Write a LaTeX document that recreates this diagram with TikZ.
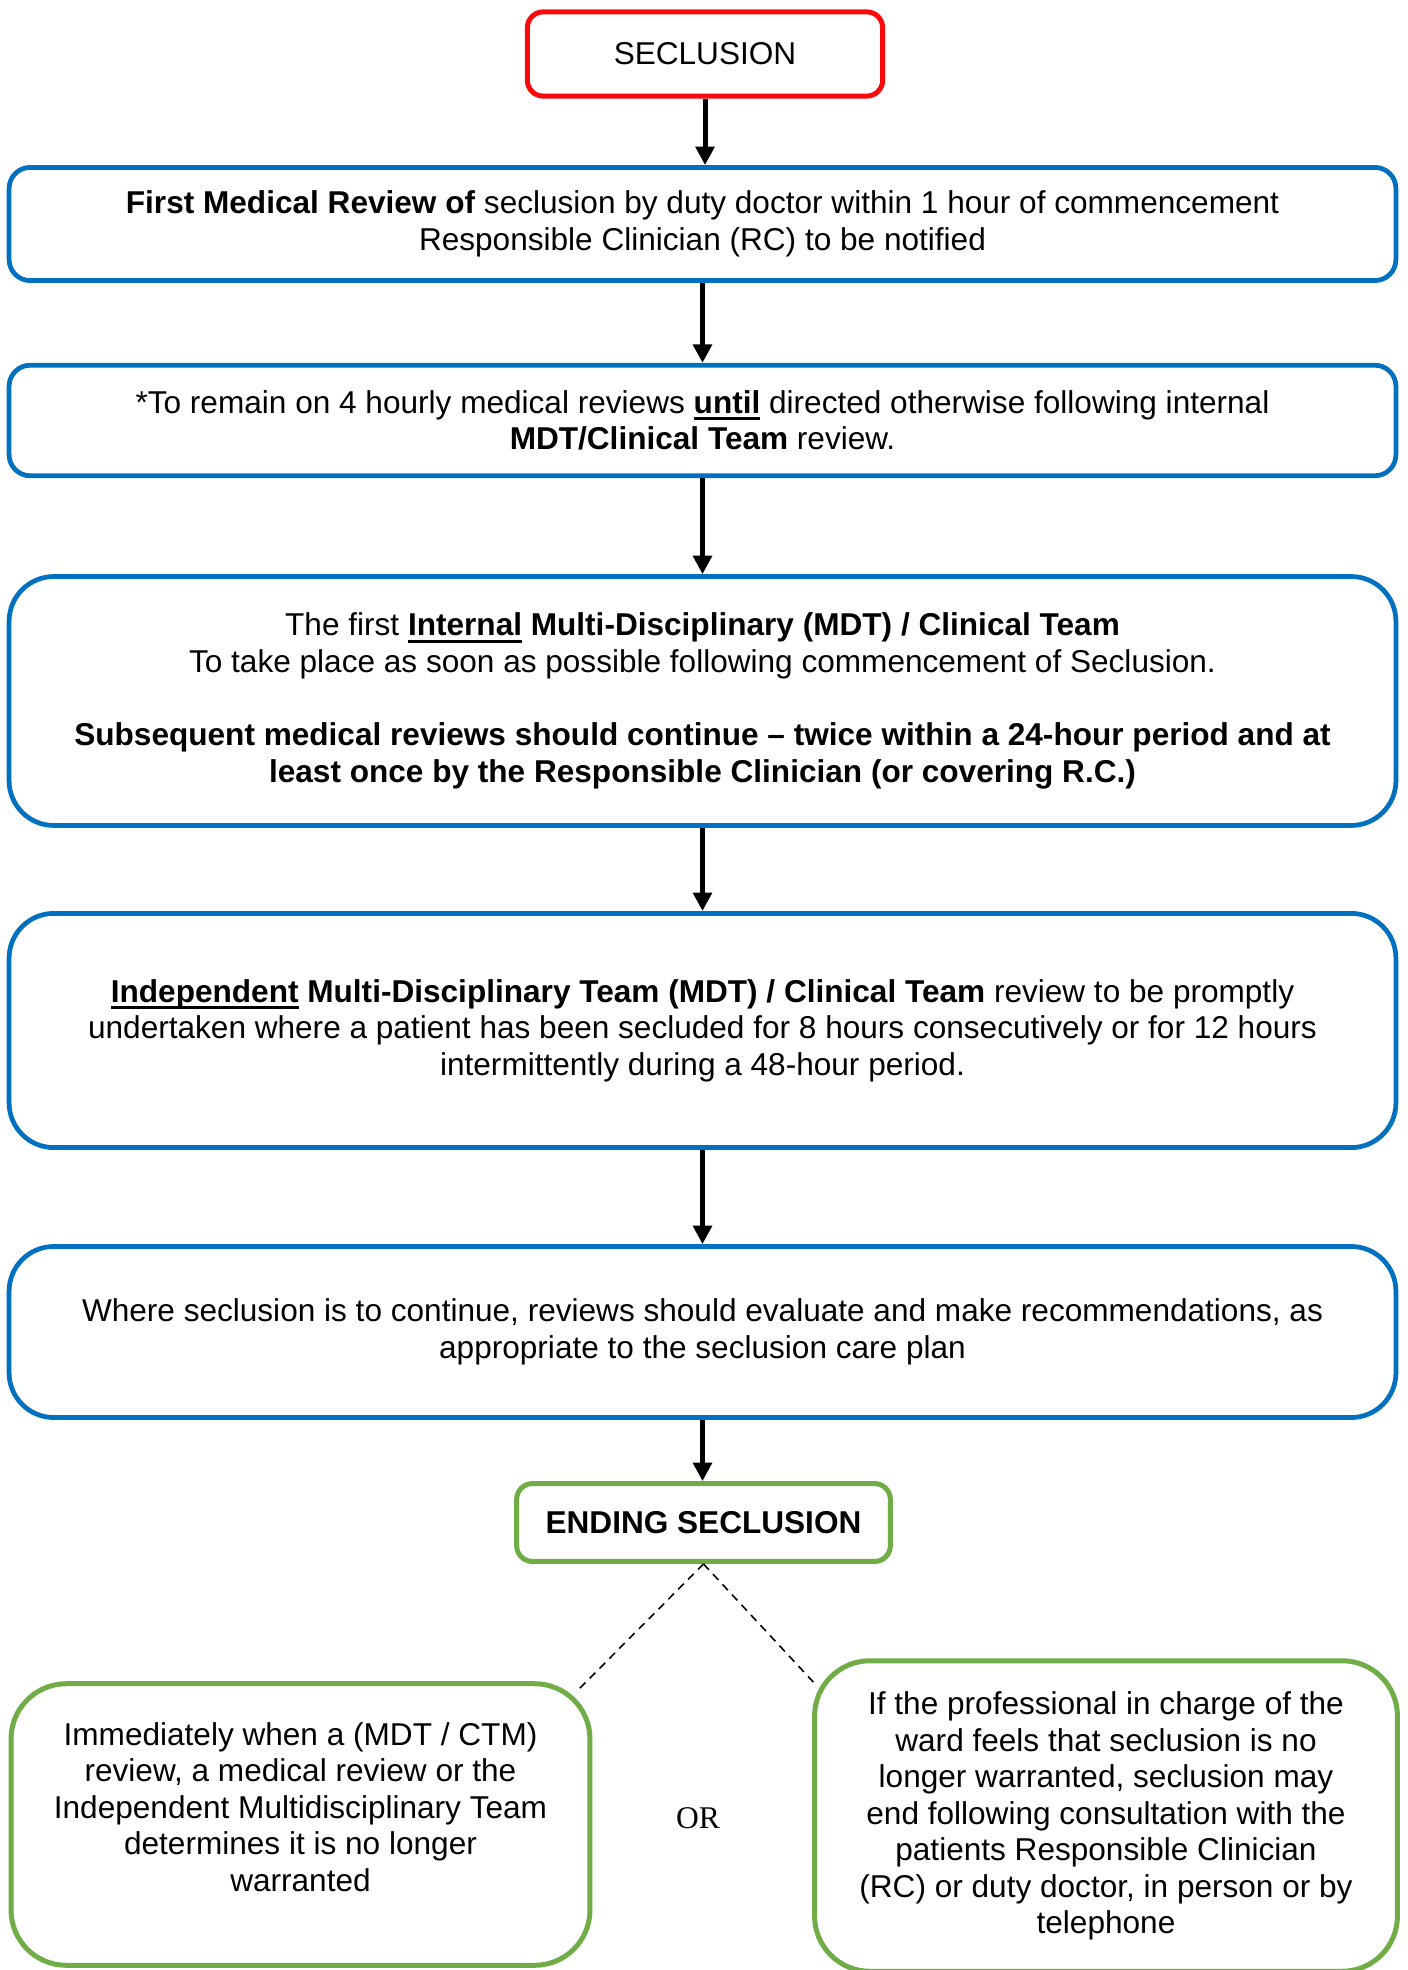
\documentclass[tikz,border=0pt]{standalone}
\usepackage{fontspec}
\setmainfont{Liberation Sans}
\newfontfamily\orfont{Liberation Serif}
\usepackage{xcolor}
\usepackage{tikz}
\usetikzlibrary{arrows.meta, positioning}
\definecolor{secred}{RGB}{250,10,10}
\definecolor{revblue}{RGB}{0,112,192}
\definecolor{endgreen}{RGB}{112,173,71}
% heavier underline, as in the printed flowchart
\newcommand{\heavyul}[1]{\setbox0\hbox{#1}\rlap{\rule[-2.6pt]{\wd0}{1.2pt}}\box0\relax}

\begin{document}
\begin{tikzpicture}[x=0.38pt, y=-0.38pt,
  every node/.style={font=\fontsize{12}{13.9}\selectfont},
  start/.style={rectangle, draw=secred, line width=1.9pt, fill=white,
                rounded corners=6pt, minimum width=135pt, minimum height=32pt,
                align=center},
  review/.style={rectangle, draw=revblue, line width=1.8pt, fill=white,
                 rounded corners=8pt, minimum width=527pt, align=center},
  bigreview/.style={review, rounded corners=17pt},
  ending/.style={rectangle, draw=endgreen, line width=1.9pt, fill=white,
                 rounded corners=6pt, align=center},
  option/.style={ending, rounded corners=21pt, minimum width=220pt},
  arr/.style={-{Triangle[length=7pt, width=7pt]}, line width=1.9pt, black},
  split/.style={dashed, dash pattern=on 3pt off 2.3pt, line width=0.6pt, black},
]
\useasboundingbox (0,0) rectangle (1407,1970);

\node[start] (sec) at (705,54) {SECLUSION};
\node[review, minimum height=43pt] (first) at (702.5,224)
  {\textbf{First Medical Review of} seclusion by duty doctor within 1 hour of commencement\\
   Responsible Clinician (RC) to be notified};
\node[review, minimum height=42pt] (hourly) at (702.5,420.5)
  {*To remain on 4 hourly medical reviews \textbf{\heavyul{until}} directed otherwise following internal\\
   \textbf{MDT/Clinical Team} review.};
\node[bigreview, minimum height=94.6pt] (internal) at (702.5,701)
  {The first \textbf{\heavyul{Internal} Multi-Disciplinary (MDT) / Clinical Team}\\
   To take place as soon as possible following commencement of Seclusion.\\[13.9pt]
   \textbf{Subsequent medical reviews should continue -- twice within a 24-hour period and at}\\
   \textbf{least once by the Responsible Clinician (or covering R.C.)}};
\node[bigreview, minimum height=89pt] (indep) at (702.5,1030.5)
  {\textbf{\heavyul{Independent} Multi-Disciplinary Team (MDT) / Clinical Team} review to be promptly\\
   undertaken where a patient has been secluded for 8 hours consecutively or for 12 hours\\
   intermittently during a 48-hour period.};
\node[bigreview, minimum height=65pt] (cont) at (702.5,1332)
  {Where seclusion is to continue, reviews should evaluate and make recommendations, as\\
   appropriate to the seclusion care plan};
\node[ending, minimum width=142pt, minimum height=29.6pt] (endsec) at (703.5,1522.5)
  {\textbf{ENDING SECLUSION}};
\node[option, minimum height=107pt, text depth=13.4pt] (mdtend) at (300.5,1824.5)
  {Immediately when a (MDT / CTM)\\ review, a medical review or the\\
   Independent Multidisciplinary Team\\ determines it is no longer\\ warranted};
\node[option, minimum width=221.5pt, minimum height=118pt] (wardend) at (1106,1816)
  {If the professional in charge of the\\ ward feels that seclusion is no\\
   longer warranted, seclusion may\\ end following consultation with the\\
   patients Responsible Clinician\\ (RC) or duty doctor, in person or by\\ telephone};
\node (or) at (698,1818) {\orfont OR};

\coordinate (mdtcorner) at (578,1690);
\coordinate (wardcorner) at (817,1686);

\draw[arr] (sec.south) -- (sec.south |- first.north);
\draw[arr] (first.south) -- (first.south |- hourly.north);
\draw[arr] (hourly.south) -- (hourly.south |- internal.north);
\draw[arr] (internal.south) -- (internal.south |- indep.north);
\draw[arr] (indep.south) -- (indep.south |- cont.north);
\draw[arr] (cont.south) -- (cont.south |- endsec.north);
\draw[split] (endsec.south) -- (mdtcorner);
\draw[split] (endsec.south) -- (wardcorner);

\end{tikzpicture}
\end{document}
